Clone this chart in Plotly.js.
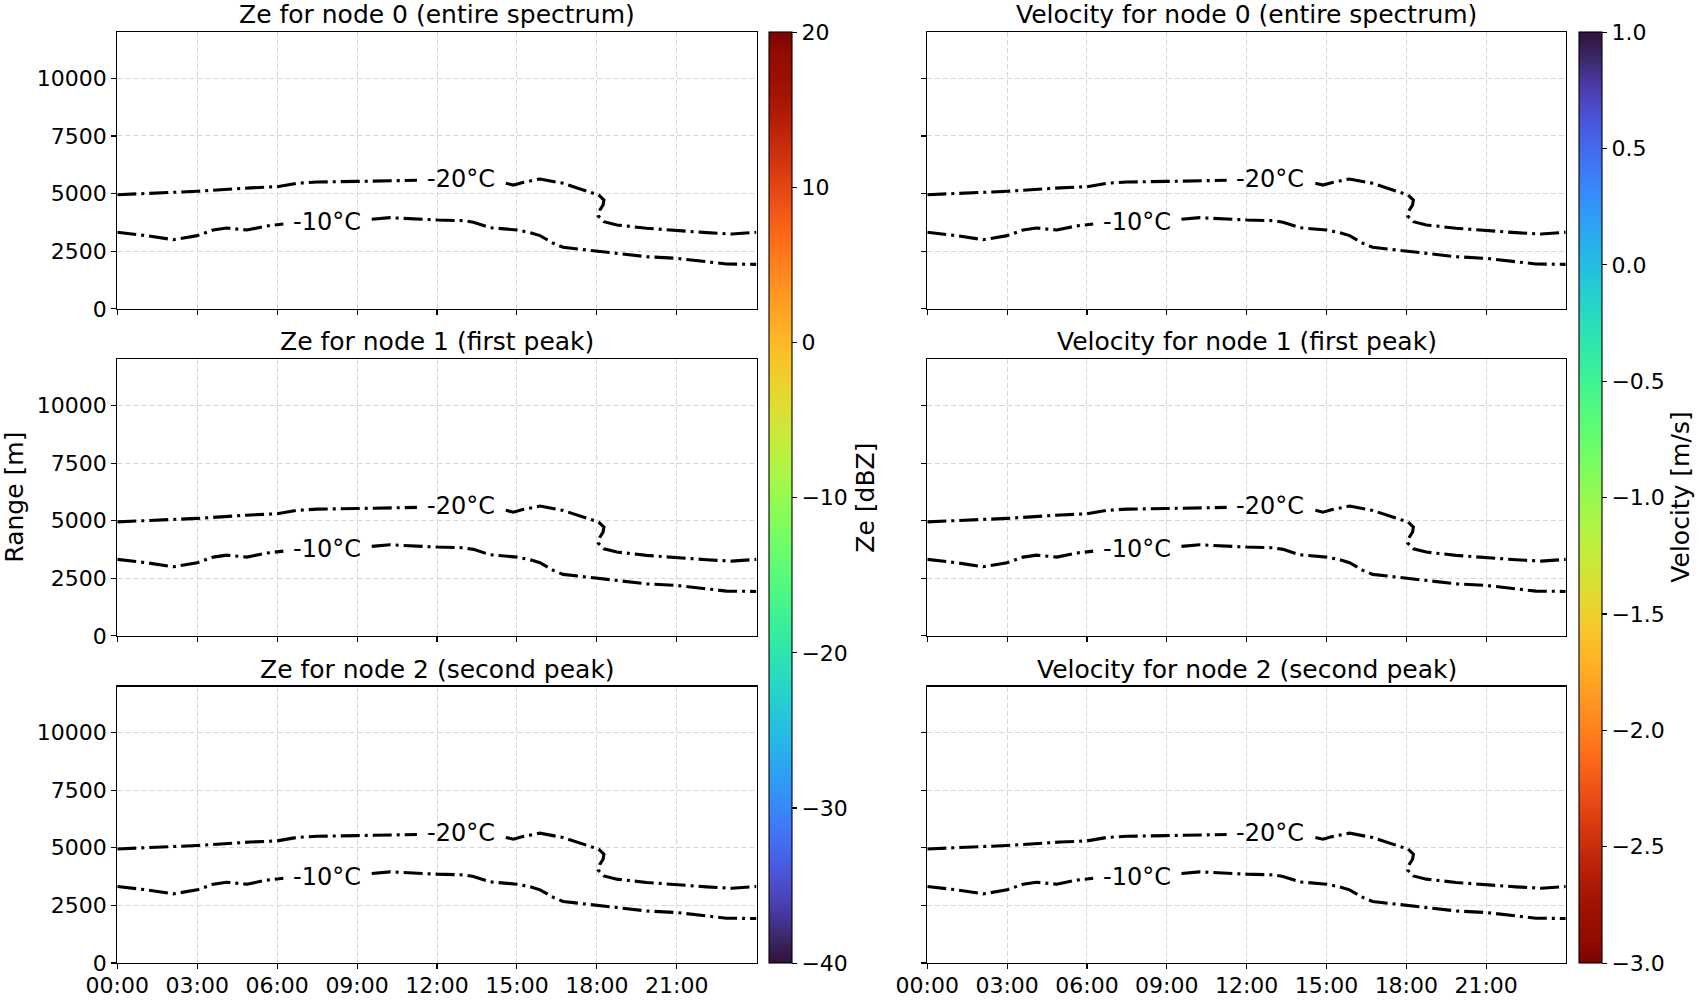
<!DOCTYPE html>
<html>
<head>
<meta charset="utf-8">
<script src="https://cdn.plot.ly/plotly-3.0.1.min.js"></script>
<style>
html, body { margin: 0; padding: 0; background: #ffffff; }
#chart { width: 1700px; height: 1000px; }
</style>
</head>
<body>
<div id="chart"></div>
<script>
// ---------------- data ----------------
const DAY = '2024-01-01';
const NEXT_DAY = '2024-01-02';

// -20 °C isotherm (null = gap left for the inline label)
const T20_TIMES = ['00:00','03:00','05:00','06:00','06:45','07:30','09:00','11:00','11:15', null,
                   '14:35','14:52','15:11','15:52','16:44','17:37','18:04','18:16','18:14','18:07',
                   '18:03','18:16','18:45','19:52','21:00','22:07','23:04','23:59'];
const T20_RANGE = [4950, 5100, 5250, 5300, 5450, 5500, 5530, 5575, 5578, null,
                   5450, 5370, 5475, 5635, 5445, 5130, 4940, 4720, 4505, 4290,
                   4030, 3780, 3640, 3495, 3390, 3305, 3245, 3320];

// -10 °C isotherm
const T10_TIMES = ['00:00','01:06','02:06','03:00','03:36','04:06','04:52','05:36','06:14', null,
                   '09:33','10:14','12:00','13:00','13:22','14:00','15:00','15:30','15:52','16:22',
                   '16:44','18:00','19:00','19:52','21:00','22:07','22:52','23:59'];
const T10_RANGE = [3320, 3175, 3000, 3175, 3420, 3505, 3420, 3595, 3680, null,
                   3885, 3955, 3855, 3825, 3755, 3520, 3420, 3305, 3175, 2845,
                   2670, 2510, 2380, 2260, 2190, 2060, 1945, 1930];

// inline contour labels
const LABEL_TEXT  = ['-20°C', '-10°C'];
const LABEL_TIMES = ['12:53', '07:52'];
const LABEL_RANGE = [5640, 3750];

const PANEL_TITLES = [
  'Ze for node 0 (entire spectrum)', 'Velocity for node 0 (entire spectrum)',
  'Ze for node 1 (first peak)',      'Velocity for node 1 (first peak)',
  'Ze for node 2 (second peak)',     'Velocity for node 2 (second peak)'
];

const X_TICKS = ['00:00','03:00','06:00','09:00','12:00','15:00','18:00','21:00'];
const X_RANGE = ['00:00', '24:00'];
const Y_TICKS = [0, 2500, 5000, 7500, 10000];
const Y_RANGE = [0, 12000];

const ZE_RANGE = [-40, 20];
const ZE_TICKS = [-40, -30, -20, -10, 0, 10, 20];
const ZE_TICKTEXT = ['−40', '−30', '−20', '−10', '0', '10', '20'];
const VEL_RANGE = [-3, 1];
const VEL_TICKS = [-3.0, -2.5, -2.0, -1.5, -1.0, -0.5, 0.0, 0.5, 1.0];
const VEL_TICKTEXT = ['−3.0', '−2.5', '−2.0', '−1.5', '−1.0', '−0.5', '0.0', '0.5', '1.0'];

const Y_LABEL = 'Range [m]';
const ZE_LABEL = 'Ze [dBZ]';
const VEL_LABEL = 'Velocity [m/s]';

// ---------------- helpers ----------------
function toDate(t) {
  if (t === null) return null;
  if (t === '24:00') return NEXT_DAY + ' 00:00';
  return DAY + ' ' + t;
}

// turbo colormap (polynomial approximation, ends pinned)
function turboColor(x) {
  const x2 = x * x, x3 = x2 * x, x4 = x3 * x, x5 = x4 * x;
  let r = 0.13572138 + 4.61539260 * x - 42.66032258 * x2 + 132.13108234 * x3 - 152.94239396 * x4 + 59.28637943 * x5;
  let g = 0.09140261 + 2.19418839 * x + 4.84296658 * x2 - 14.18503333 * x3 + 4.27729857 * x4 + 2.82956604 * x5;
  let b = 0.10667330 + 12.64194608 * x - 60.58204836 * x2 + 110.36276771 * x3 - 89.90310912 * x4 + 27.34824973 * x5;
  const c = v => Math.max(0, Math.min(255, Math.round(v * 255)));
  return 'rgb(' + c(r) + ',' + c(g) + ',' + c(b) + ')';
}
function turboScale(reverse) {
  const out = [];
  const N = 40;
  for (let i = 0; i <= N; i++) {
    const t = i / N;
    let col;
    const s = reverse ? 1 - t : t;
    if (s === 0) col = '#30123b';
    else if (s === 1) col = '#7a0403';
    else col = turboColor(s);
    out.push([t, col]);
  }
  return out;
}

// ---------------- layout geometry ----------------
const W = 1700, H = 1000;
const FONT = 'DejaVu Sans, Liberation Sans, sans-serif';
const COLS = [[117.3, 756.7], [927.3, 1566]];
const ROWS = [[32.3, 308.8], [359.4, 635.9], [686.5, 963]];
const CB_X = [769, 1579];
const CB_THICK = 23;

const layout = {
  width: W, height: H,
  margin: { l: 0, r: 0, t: 0, b: 0 },
  paper_bgcolor: '#ffffff', plot_bgcolor: '#ffffff',
  showlegend: false,
  font: { family: FONT, color: '#000000', size: 22 },
  annotations: []
};

const data = [];
const xr = X_RANGE.map(toDate);

for (let r = 0; r < 3; r++) {
  for (let c = 0; c < 2; c++) {
    const i = r * 2 + c;
    const n = i + 1;
    const xa = n === 1 ? 'xaxis' : 'xaxis' + n;
    const ya = n === 1 ? 'yaxis' : 'yaxis' + n;
    const xid = n === 1 ? 'x' : 'x' + n;
    const yid = n === 1 ? 'y' : 'y' + n;
    const common = {
      showline: true, mirror: true, linecolor: '#000000', linewidth: 1.1,
      ticks: 'outside', ticklen: 5, tickwidth: 1.1, tickcolor: '#000000',
      showgrid: true, gridcolor: '#d6d6d6', gridwidth: 1, griddash: '5px,3px',
      zeroline: false, tickfont: { family: FONT, size: 22, color: '#000000' }
    };
    layout[xa] = Object.assign({}, common, {
      domain: [COLS[c][0] / W, COLS[c][1] / W],
      anchor: yid, type: 'date', range: xr,
      tickmode: 'array', tickvals: X_TICKS.map(toDate), ticktext: X_TICKS,
      showticklabels: r === 2, ticklabelstandoff: -3
    });
    layout[ya] = Object.assign({}, common, {
      domain: [1 - ROWS[r][1] / H, 1 - ROWS[r][0] / H],
      anchor: xid, range: Y_RANGE,
      tickmode: 'array', tickvals: Y_TICKS, ticktext: Y_TICKS.map(String),
      showticklabels: c === 0
    });

    const lineStyle = { color: '#000000', width: 3.1, dash: '19px,5px,3px,5px' };
    data.push({
      type: 'scatter', mode: 'lines', xaxis: xid, yaxis: yid,
      x: T20_TIMES.map(toDate), y: T20_RANGE, connectgaps: false,
      line: lineStyle, hoverinfo: 'skip'
    });
    data.push({
      type: 'scatter', mode: 'lines', xaxis: xid, yaxis: yid,
      x: T10_TIMES.map(toDate), y: T10_RANGE, connectgaps: false,
      line: lineStyle, hoverinfo: 'skip'
    });

    for (let k = 0; k < LABEL_TEXT.length; k++) {
      layout.annotations.push({
        xref: xid, yref: yid, x: toDate(LABEL_TIMES[k]), y: LABEL_RANGE[k],
        text: LABEL_TEXT[k], showarrow: false, xanchor: 'center', yanchor: 'middle',
        font: { family: FONT, size: 24, color: '#000000' }
      });
    }

    layout.annotations.push({
      xref: 'paper', yref: 'paper',
      x: (COLS[c][0] + COLS[c][1]) / 2 / W, y: 1 - ROWS[r][0] / H,
      xanchor: 'center', yanchor: 'bottom', yshift: 1,
      text: PANEL_TITLES[i], showarrow: false,
      font: { family: FONT, size: 25, color: '#000000' }
    });
  }
}

// colorbars
function colorbarTrace(rangeVals, ticks, ticktext, reverse, xpx) {
  return {
    type: 'scatter', mode: 'markers', xaxis: 'x', yaxis: 'y',
    x: [null, null], y: [null, null], hoverinfo: 'skip',
    marker: {
      size: 0, opacity: 0, color: rangeVals, cmin: rangeVals[0], cmax: rangeVals[1],
      colorscale: turboScale(reverse), showscale: true,
      colorbar: {
        x: xpx / W, xanchor: 'left', xref: 'paper', xpad: 0,
        y: 1 - (ROWS[0][0] + ROWS[2][1]) / 2 / H, yanchor: 'middle', yref: 'paper', ypad: 0,
        len: (ROWS[2][1] - ROWS[0][0]) / H, lenmode: 'fraction',
        thickness: CB_THICK, thicknessmode: 'pixels',
        outlinewidth: 1.1, outlinecolor: '#000000',
        ticks: 'outside', ticklen: 5, tickwidth: 1.1, tickcolor: '#000000',
        tickmode: 'array', tickvals: ticks, ticktext: ticktext,
        tickfont: { family: FONT, size: 22, color: '#000000' }
      }
    }
  };
}
data.push(colorbarTrace(ZE_RANGE, ZE_TICKS, ZE_TICKTEXT, false, CB_X[0]));
data.push(colorbarTrace(VEL_RANGE, VEL_TICKS, VEL_TICKTEXT, true, CB_X[1]));

// axis / colorbar labels
const midY = 1 - (ROWS[0][0] + ROWS[2][1]) / 2 / H;
layout.annotations.push({
  xref: 'paper', yref: 'paper', x: 15 / W, y: 1 - (ROWS[1][0] + ROWS[1][1]) / 2 / H,
  text: Y_LABEL, textangle: -90, showarrow: false, xanchor: 'center', yanchor: 'middle',
  font: { family: FONT, size: 25, color: '#000000' }
});
layout.annotations.push({
  xref: 'paper', yref: 'paper', x: 866 / W, y: midY,
  text: ZE_LABEL, textangle: -90, showarrow: false, xanchor: 'center', yanchor: 'middle',
  font: { family: FONT, size: 25, color: '#000000' }
});
layout.annotations.push({
  xref: 'paper', yref: 'paper', x: 1681 / W, y: midY,
  text: VEL_LABEL, textangle: -90, showarrow: false, xanchor: 'center', yanchor: 'middle',
  font: { family: FONT, size: 25, color: '#000000' }
});

Plotly.newPlot('chart', data, layout, { displayModeBar: false, staticPlot: true });
</script>
</body>
</html>
